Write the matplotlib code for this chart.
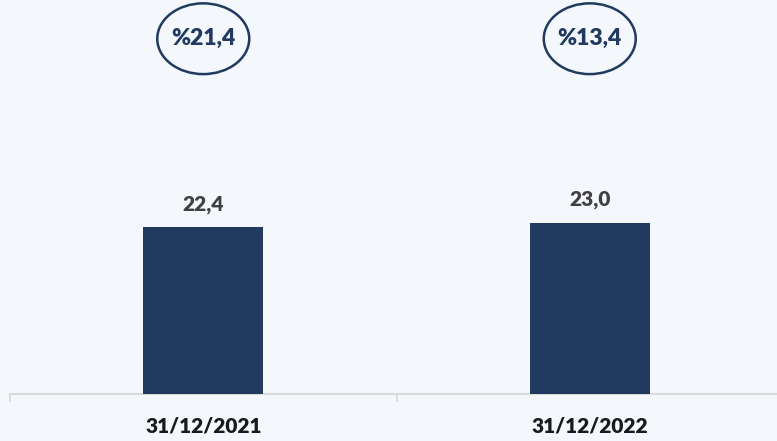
import matplotlib.pyplot as plt
from matplotlib.patches import Ellipse

categories = ['31/12/2021', '31/12/2022']
values = [22.4, 23.0]
value_labels = ['22,4', '23,0']
circle_labels = ['%21,4', '%13,4']

navy = '#203a60'
bg = '#f4f7fb'

plt.rcParams['font.family'] = ['Lato', 'DejaVu Sans']

fig = plt.figure(figsize=(7.77, 4.41), dpi=100, facecolor=bg)
ax = fig.add_axes([10 / 777, 47 / 441, 773 / 777, 394 / 441])
ax.set_facecolor(bg)

x = range(len(categories))
ax.bar(x, values, width=0.31, color=navy, zorder=3)

for i, v in enumerate(values):
    ax.text(i, v + 1.8, value_labels[i], ha='center', va='bottom',
            fontsize=15, fontweight='heavy', color='#404040')
    ax.add_patch(Ellipse((i, 47.7), 0.238, 9.5, fill=False,
                         edgecolor=navy, linewidth=1.8, clip_on=False))
    ax.text(i, 47.7, circle_labels[i], ha='center', va='center',
            fontsize=16.5, fontweight='heavy', color=navy)

ax.set_xlim(-0.5, 1.5)
ax.set_ylim(0, 52.9)

ax.set_xticks(list(x))
ax.set_xticklabels(categories, fontsize=15, fontweight='heavy', color='#1a1a1a')
ax.tick_params(axis='x', which='major', length=0, pad=16)
ax.set_xticks([-0.5, 0.5, 1.5], minor=True)
ax.tick_params(axis='x', which='minor', length=6, color='#d9d9d9', width=1.2)
ax.set_yticks([])

for s in ['top', 'right', 'left']:
    ax.spines[s].set_visible(False)
ax.spines['bottom'].set_color('#d9d9d9')
ax.spines['bottom'].set_linewidth(1.5)

fig.savefig('out.png', dpi=100, facecolor=bg)
